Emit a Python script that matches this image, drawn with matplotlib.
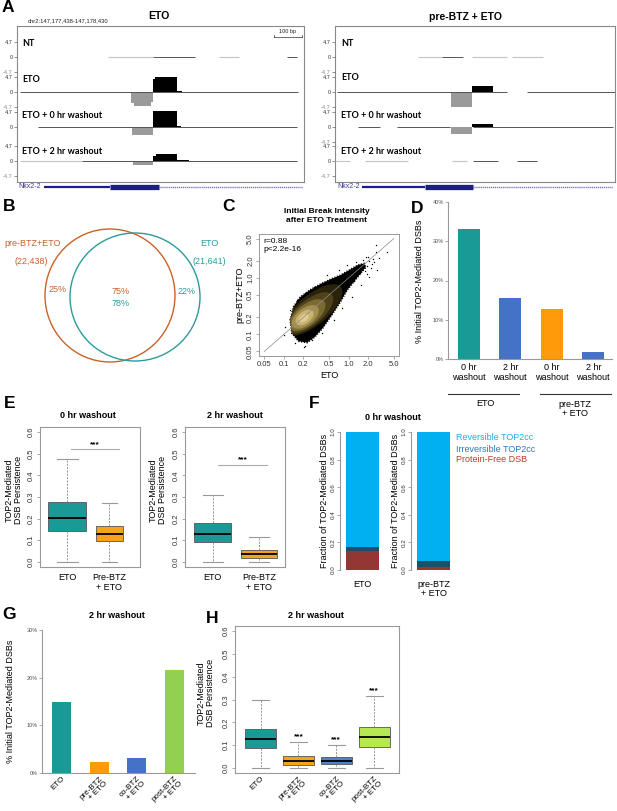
import numpy as np
import matplotlib
matplotlib.use("Agg")
import matplotlib.pyplot as plt
from matplotlib.patches import Ellipse, Polygon

W, H = 617, 811
plt.rcParams['font.family'] = ['Liberation Sans', 'DejaVu Sans']

# --- DATA ---
# A: browser tracks, positions in bp from chr2:147,177,438
REGION_LEN = 992
TRACK_NAMES = ["NT", "ETO", "ETO + 0 hr washout", "ETO + 2 hr washout"]
ETO_BLOCKS = [
    [],
    [(395, 405, -3.6), (405, 462, -4.4), (462, 470, -3.2), (470, 478, 4.2), (478, 553, 4.8), (553, 572, 0.4)],
    [(397, 470, -2.5), (470, 553, 5.0), (553, 566, 0.3)],
    [(321, 401, -0.3), (401, 470, -1.3), (470, 480, 1.6), (480, 553, 2.3), (553, 595, 0.3)],
]
ETO_DARK = [[(470, 615), (933, 968)], [(10, 970)], [(73, 968)], [(224, 968)]]
ETO_LIGHT = [[(315, 470), (698, 767)], [], [], [(10, 224)]]
PRE_BLOCKS = [
    [],
    [(411, 485, -4.7), (485, 560, 2.0)],
    [(411, 485, -2.2), (485, 560, 1.1)],
    [],
]
PRE_DARK = [[(379, 453)], [(7, 609), (680, 992)], [(81, 159), (219, 407), (489, 985)], [(489, 577), (645, 716)]]
PRE_LIGHT = [[(294, 379), (485, 609), (627, 737)], [], [], [(0, 53), (106, 259), (414, 468)]]
GENE_THIN = (95, 320)
GENE_THICK = (320, 490)
GENE_INTRON = (490, 985)

# B: venn
VENN_NAMES = ["pre-BTZ+ETO", "ETO"]
VENN_COUNTS = ["(22,438)", "(21,641)"]
VENN_ONLY = ["25%", "22%"]
VENN_SHARED = ["75%", "78%"]

# C: scatter; dense cloud outline, density levels and stray points
CLOUD_OUTLINE = [(0.126, 0.18), (0.142, 0.31), (0.18, 0.46), (0.258, 0.62), (0.37, 0.78),
                 (0.53, 0.95), (0.75, 1.12), (1.05, 1.4), (1.4, 1.7), (1.75, 1.8), (1.85, 1.55),
                 (1.6, 1.28), (1.3, 0.95), (0.96, 0.62), (0.75, 0.38), (0.55, 0.22), (0.4, 0.13),
                 (0.3, 0.09), (0.23, 0.072), (0.17, 0.076), (0.134, 0.105)]
DENSITY_LEVELS = [(0.28, 0.27, 1.20, 0.50), (0.25, 0.24, 0.95, 0.42), (0.23, 0.22, 0.72, 0.35),
                  (0.215, 0.205, 0.52, 0.28), (0.21, 0.20, 0.34, 0.20), (0.205, 0.195, 0.18, 0.11)]
DENSITY_COLORS = ["#2a220b", "#4f421a", "#7b6a31", "#a48f52", "#c9b474", "#dfcd90"]
OUT_X = [0.106, 0.100, 0.151, 0.203, 0.274, 0.392, 0.593, 0.80, 1.15, 1.54, 2.07, 2.79, 2.96,
         2.63, 1.84, 1.29, 0.96, 0.71, 0.47, 0.39, 0.29, 0.216, 0.16, 0.126, 1.37, 1.01,
         2.63, 3.98, 0.216, 1.6, 1.9, 2.1, 2.4, 1.5, 1.8, 2.2, 1.7, 2.5, 1.3, 1.2, 2.0, 2.3, 1.95]
OUT_Y = [0.137, 0.098, 0.070, 0.059, 0.080, 0.105, 0.181, 0.29, 0.47, 0.75, 1.05, 1.38, 2.23,
         2.92, 2.38, 1.94, 1.70, 1.38, 1.13, 0.80, 0.70, 0.54, 0.41, 0.27, 1.49, 1.21,
         3.88, 2.89, 0.062, 1.8, 1.6, 2.0, 2.2, 1.25, 1.35, 1.5, 2.1, 1.9, 1.45, 0.9, 2.4, 1.75, 1.2]
C_TICKS = [0.05, 0.1, 0.2, 0.5, 1.0, 2.0, 5.0]

# D
D_LABELS = ["0 hr\nwashout", "2 hr\nwashout", "0 hr\nwashout", "2 hr\nwashout"]
D_VALUES = [33.0, 15.5, 12.7, 1.8]
D_GROUPS = ["ETO", "pre-BTZ\n+ ETO"]

# E: (whislo, q1, med, q3, whishi)
E_LABELS = ["ETO", "Pre-BTZ\n+ ETO"]
E0_STATS = [(0.0, 0.143, 0.203, 0.277, 0.476), (0.0, 0.098, 0.130, 0.168, 0.272)]
E2_STATS = [(0.0, 0.091, 0.130, 0.180, 0.310), (0.0, 0.018, 0.034, 0.056, 0.115)]
E_SIG_Y = [0.52, 0.45]

# F
F_LABELS = ["ETO", "pre-BTZ\n+ ETO"]
F_PROTEIN_FREE = [0.135, 0.025]
F_IRREV = [0.035, 0.042]
F_REV = [0.830, 0.933]
F_LEGEND = ["Reversible TOP2cc", "Irreversible TOP2cc", "Protein-Free DSB"]

# G
G_LABELS = ["ETO", "pre-BTZ\n+ ETO", "co-BTZ\n+ ETO", "post-BTZ\n+ ETO"]
G_VALUES = [14.9, 2.4, 3.1, 21.6]

# H
H_STATS = [(0.0, 0.088, 0.127, 0.170, 0.296), (0.0, 0.013, 0.030, 0.054, 0.115),
           (0.0, 0.016, 0.032, 0.050, 0.102), (0.0, 0.090, 0.135, 0.178, 0.316)]

TEAL = "#1a9a96"
ORANGE = "#f7a21b"
BLUE = "#4472c4"
NAVY = "#1c1c8c"

fig = plt.figure(figsize=(W / 100, H / 100), dpi=100)


def px_axes(l, t, r, b):
    return fig.add_axes([l / W, 1 - b / H, (r - l) / W, (b - t) / H])


# --- A ---
TRACK_BASE = [57, 92, 127, 161]


def draw_browser(box_l, box_r, blocks, dark, light, skip_neg):
    frame = px_axes(box_l, 26, box_r, 182)
    frame.set_xticks([]); frame.set_yticks([])
    for s in frame.spines.values():
        s.set_color("#888"); s.set_linewidth(0.8)
    for i, base in enumerate(TRACK_BASE):
        ax = px_axes(box_l, base - 17.5, box_r, base + 17.5)
        ax.set_xlim(0, REGION_LEN); ax.set_ylim(-5.5, 5.5)
        ax.patch.set_visible(False)
        for s in ax.spines.values():
            s.set_visible(False)
        ax.set_xticks([])
        ticks = [4.7, 0] if i in skip_neg else [4.7, 0, -4.7]
        ax.set_yticks(ticks)
        ax.set_yticklabels([("%g" % t) for t in ticks])
        ax.tick_params(axis='y', length=2, width=0.5, color='#666', labelsize=4, pad=1, labelcolor='#333')
        for lab, t in zip(ax.get_yticklabels(), ticks):
            if t < 0:
                lab.set_color('#888')
        for s, e in light[i]:
            ax.plot([s, e], [0, 0], color='#c4c4c4', lw=0.8, solid_capstyle='butt')
        for s, e in dark[i]:
            ax.plot([s, e], [0, 0], color='#555555', lw=0.7, solid_capstyle='butt')
        for s, e, v in blocks[i]:
            ax.fill_between([s, e], 0, v, color='black' if v > 0 else '#9a9a9a', lw=0)
    gene = px_axes(box_l, 183, box_r, 191)
    gene.set_xlim(0, REGION_LEN); gene.set_ylim(-1, 1); gene.axis('off')
    gene.plot(GENE_THIN, [0, 0], color=NAVY, lw=1.6, solid_capstyle='butt')
    gene.plot(GENE_THICK, [0, 0], color=NAVY, lw=3.8, solid_capstyle='butt')
    gene.plot(GENE_INTRON, [0, 0], color='#6a6ab0', lw=1.0, ls=(0, (0.8, 0.6)))


draw_browser(17, 304, ETO_BLOCKS, ETO_DARK, ETO_LIGHT, skip_neg=[2])
draw_browser(335, 615, PRE_BLOCKS, PRE_DARK, PRE_LIGHT, skip_neg=[])

# --- C ---
lx = np.log10
axC = px_axes(259, 234, 399, 356)
axC.set_xlim(lx(0.05) - 0.08, lx(5) + 0.08)
axC.set_ylim(lx(0.05) - 0.08, lx(5) + 0.08)
axC.set_xticks(lx(C_TICKS)); axC.set_yticks(lx(C_TICKS))
axC.set_xticklabels(["%g" % t if t < 1 else "%.1f" % t for t in C_TICKS])
axC.set_yticklabels(["%g" % t if t < 1 else "%.1f" % t for t in C_TICKS], rotation=90, va='center')
axC.tick_params(length=2, width=0.5, color='#888', labelsize=5.5, pad=1.5, labelcolor='#333')
for s in axC.spines.values():
    s.set_color('#999'); s.set_linewidth(0.7)
outline = Polygon(lx(np.array(CLOUD_OUTLINE)), closed=True, fc='black', ec='black', lw=1.3,
                  ls=(0, (0.6, 0.9)), zorder=2)
axC.add_patch(outline)
core = Polygon(lx(np.array(CLOUD_OUTLINE)), closed=True, visible=False)
axC.add_patch(core)
for (cx, cy, length, width), col in zip(DENSITY_LEVELS, DENSITY_COLORS):
    e = Ellipse((lx(cx), lx(cy)), length, width, angle=45, fc=col, ec='none', zorder=3)
    e.set_clip_path(core)
    axC.add_patch(e)
axC.scatter(lx(OUT_X), lx(OUT_Y), s=1.0, c='black', lw=0, zorder=4)
axC.plot([lx(0.05), lx(5)], [lx(0.05), lx(5)], color='#8a8a8a', lw=0.5, zorder=5)
axC.text(0.03, 0.97, "r=0.88\np<2.2e-16", transform=axC.transAxes, ha='left', va='top',
         fontsize=6, linespacing=1.3)
axC.set_xlabel("ETO", fontsize=6.5, labelpad=2)
axC.set_ylabel("pre-BTZ+ETO", fontsize=6.5, labelpad=2)

# --- D ---
axD = px_axes(448, 202, 612, 359)
xD = np.arange(len(D_VALUES))
axD.bar(xD, D_VALUES, width=0.53, color=[TEAL, BLUE, "#ff9a0a", BLUE])
axD.set_xlim(-0.5, 3.45); axD.set_ylim(0, 40)
axD.set_yticks([0, 10, 20, 30, 40])
axD.set_yticklabels(["%d%%" % v for v in [0, 10, 20, 30, 40]])
axD.set_xticks(xD); axD.set_xticklabels(D_LABELS, fontsize=6.5, linespacing=1.1)
axD.tick_params(axis='x', length=0, pad=3)
axD.tick_params(axis='y', length=2, width=0.5, color='#888', labelsize=4, labelcolor='#555', pad=1)
for k in ['top', 'right']:
    axD.spines[k].set_visible(False)
for k in ['left', 'bottom']:
    axD.spines[k].set_color('#999'); axD.spines[k].set_linewidth(0.8)


# --- E ---
def box_stats(rows, labels):
    return [dict(whislo=r[0], q1=r[1], med=r[2], q3=r[3], whishi=r[4], label=l, fliers=[])
            for r, l in zip(rows, labels)]


def style_box(ax, ylim=(-0.024, 0.624)):
    ax.set_ylim(*ylim)
    ax.set_yticks(np.arange(0, 0.61, 0.1))
    ax.set_yticklabels(["%.1f" % v for v in np.arange(0, 0.61, 0.1)], rotation=90, va='center')
    ax.tick_params(axis='y', length=2, width=0.5, color='#888', labelsize=5.5, labelcolor='#333', pad=1.5)
    ax.tick_params(axis='x', length=0, labelsize=6.5, pad=4)
    for s in ax.spines.values():
        s.set_color('#999'); s.set_linewidth(0.8)


def draw_box(ax, rows, labels, colors, widths):
    bp = ax.bxp(box_stats(rows, labels), widths=widths, capwidths=[w * 0.55 for w in widths],
                patch_artist=True, showfliers=False,
                boxprops=dict(edgecolor='#555', linewidth=0.6),
                whiskerprops=dict(color='#888', linestyle=(0, (2.5, 1.5)), linewidth=0.6),
                capprops=dict(color='#999', linewidth=0.8),
                medianprops=dict(color='black', linewidth=1.3))
    for patch, c in zip(bp['boxes'], colors):
        patch.set_facecolor(c)


axE0 = px_axes(40, 427, 140, 567)
draw_box(axE0, E0_STATS, E_LABELS, [TEAL, ORANGE], [0.895, 0.63])
axE0.set_xlim(0.354, 2.73)
style_box(axE0)
axE2 = px_axes(185, 427, 285, 567)
draw_box(axE2, E2_STATS, E_LABELS, [TEAL, ORANGE], [0.8, 0.78])
axE2.set_xlim(0.398, 2.57)
style_box(axE2)
for ax, y, (x0, x1) in zip([axE0, axE2], E_SIG_Y, [(1.09, 2.23), (1.115, 2.18)]):
    ax.plot([x0, x1], [y, y], color='#aaa', lw=0.8)
    ax.text((x0 + x1) / 2, y + 0.005, "***", ha='center', va='bottom', fontsize=6, fontweight='bold')

# --- F ---
for l, r, i in [(340, 385, 0), (411, 455, 1)]:
    ax = px_axes(l, 432, r, 570)
    ax.bar(0, F_PROTEIN_FREE[i], width=1, color="#943634")
    ax.bar(0, F_IRREV[i], width=1, bottom=F_PROTEIN_FREE[i], color="#1d4e6b")
    ax.bar(0, F_REV[i], width=1, bottom=F_PROTEIN_FREE[i] + F_IRREV[i], color="#00b0f0")
    ax.set_xlim(-22.5 / 33.0, (r - l - 22.5) / 33.0)
    ax.set_ylim(0, 1)
    ax.set_yticks(np.arange(0, 1.01, 0.2))
    ax.set_yticklabels(["%.1f" % v for v in np.arange(0, 1.01, 0.2)], rotation=90, va='center')
    ax.tick_params(axis='y', length=2, width=0.5, color='#888', labelsize=4.5, labelcolor='#333', pad=1)
    ax.set_xticks([0]); ax.set_xticklabels([F_LABELS[i]], fontsize=6.5, linespacing=1.1)
    ax.tick_params(axis='x', length=0, pad=7)
    for k in ['top', 'right', 'bottom']:
        ax.spines[k].set_visible(False)
    ax.spines['left'].set_color('#999'); ax.spines['left'].set_linewidth(0.8)
    ax.set_ylabel("Fraction of TOP2-Mediated DSBs", fontsize=6.5, labelpad=1)

# --- G ---
axG = px_axes(42, 630, 195, 773)
xG = np.arange(len(G_VALUES))
axG.bar(xG, G_VALUES, width=0.51, color=[TEAL, "#ff9a0a", BLUE, "#92d050"])
axG.set_xlim(-0.52, 3.55); axG.set_ylim(0, 30)
axG.set_yticks([0, 10, 20, 30])
axG.set_yticklabels(["%d%%" % v for v in [0, 10, 20, 30]])
axG.tick_params(axis='y', length=2, width=0.5, color='#888', labelsize=4, labelcolor='#555', pad=1)
axG.set_xticks(xG)
axG.set_xticklabels(G_LABELS, rotation=45, ha='right', va='top', rotation_mode='anchor', fontsize=5.8,
                    linespacing=0.95)
axG.tick_params(axis='x', length=0, pad=1.5)
for k in ['top', 'right']:
    axG.spines[k].set_visible(False)
for k in ['left', 'bottom']:
    axG.spines[k].set_color('#999'); axG.spines[k].set_linewidth(0.8)
axG.set_ylabel("% Initial TOP2-Mediated DSBs", fontsize=6.5, labelpad=8)

# --- H ---
axH = px_axes(235, 626, 399, 773)
draw_box(axH, H_STATS, G_LABELS, [TEAL, ORANGE, "#4a86c5", "#b5e853"], [0.82] * 4)
axH.set_xlim(0.325, 4.66)
style_box(axH, ylim=(-0.022, 0.622))
axH.set_xticklabels(G_LABELS, rotation=45, ha='right', va='top', rotation_mode='anchor', fontsize=5.8,
                    linespacing=0.95)
axH.tick_params(axis='x', pad=1.5)
for i, row in enumerate(H_STATS[1:], start=2):
    axH.text(i, row[4] + 0.008, "***", ha='center', va='bottom', fontsize=6, fontweight='bold')

# --- overlay: panel letters, titles, labels, venn ---
ov = fig.add_axes([0, 0, 1, 1])
ov.set_xlim(0, W); ov.set_ylim(H, 0); ov.axis('off')

for letter, x, y in [("A", 2, 0), ("B", 3, 199), ("C", 222, 199), ("D", 411, 201),
                     ("E", 4, 396), ("F", 309, 396), ("G", 2, 607), ("H", 206, 611)]:
    ov.text(x, y, letter, fontsize=12.5, fontweight='bold', ha='left', va='top')

ov.text(159, 16, "ETO", fontsize=7.5, fontweight='bold', ha='center', va='center')
ov.text(465, 17, "pre-BTZ + ETO", fontsize=7.5, fontweight='bold', ha='center', va='center')
ov.text(28, 21, "chr2:147,177,438-147,178,430", fontsize=4.2, ha='left', va='center', color='#222')
ov.plot([274, 302], [36.5, 36.5], color='#333', lw=0.5)
ov.plot([274, 274], [35, 36.5], color='#333', lw=0.5)
ov.plot([302, 302], [35, 36.5], color='#333', lw=0.5)
ov.text(288, 34.5, "100 bp", fontsize=4, ha='center', va='bottom', color='#222')
for name, y0, y1 in zip(TRACK_NAMES, [43, 79, 116, 152], [43, 78, 115, 152]):
    ov.text(22, y0, name, fontsize=6.5, fontweight='bold', family=['Lato', 'DejaVu Sans'],
            ha='left', va='center')
    ov.text(341, y1, name, fontsize=6.5, fontweight='bold', family=['Lato', 'DejaVu Sans'],
            ha='left', va='center')
ov.text(41, 187, "Nkx2-2", fontsize=5, color='#3a3aa0', ha='right', va='center')
ov.text(360, 187, "Nkx2-2", fontsize=5, color='#3a3aa0', ha='right', va='center')

VORANGE, VTEAL = "#c8622a", "#2a9c9a"
ov.add_patch(Ellipse((110, 295.5), 130, 133, fc='none', ec=VORANGE, lw=1.0))
ov.add_patch(Ellipse((135, 297), 130, 128, fc='none', ec=VTEAL, lw=1.0))
ov.text(33, 244, VENN_NAMES[0], fontsize=6.5, color=VORANGE, ha='center', va='center')
ov.text(31, 261, VENN_COUNTS[0], fontsize=6.5, color=VORANGE, ha='center', va='center')
ov.text(209, 244, VENN_NAMES[1], fontsize=6.5, color=VTEAL, ha='center', va='center')
ov.text(209, 261, VENN_COUNTS[1], fontsize=6.5, color=VTEAL, ha='center', va='center')
ov.text(58, 289, VENN_ONLY[0], fontsize=6.5, color=VORANGE, ha='center', va='center')
ov.text(187, 292, VENN_ONLY[1], fontsize=6.5, color=VTEAL, ha='center', va='center')
ov.text(121, 291, VENN_SHARED[0], fontsize=6.5, color=VORANGE, ha='center', va='center')
ov.text(121, 303, VENN_SHARED[1], fontsize=6.5, color=VTEAL, ha='center', va='center')

ov.text(327, 216, "Initial Break Intensity\nafter ETO Treatment", fontsize=6, fontweight='bold',
        ha='center', va='center', linespacing=1.3)
ov.text(420, 281, "% Initial TOP2-Mediated DSBs", fontsize=6.5, rotation=90, ha='center', va='center')
ov.plot([448, 519], [394, 394], color='#333', lw=0.8)
ov.plot([540, 611], [394, 394], color='#333', lw=0.8)
ov.text(485, 404, D_GROUPS[0], fontsize=6.5, ha='center', va='center')
ov.text(575, 409, D_GROUPS[1], fontsize=6.5, ha='center', va='center', linespacing=1.1)

ov.text(88, 416, "0 hr washout", fontsize=6.5, fontweight='bold', ha='center', va='center')
ov.text(235, 416, "2 hr washout", fontsize=6.5, fontweight='bold', ha='center', va='center')
ov.text(14, 490, "TOP2-Mediated\nDSB Persistence", fontsize=6.5, rotation=90, ha='center', va='center',
        linespacing=1.05)
ov.text(158, 490, "TOP2-Mediated\nDSB Persistence", fontsize=6.5, rotation=90, ha='center', va='center',
        linespacing=1.05)

ov.text(393, 417, "0 hr washout", fontsize=6.5, fontweight='bold', ha='center', va='center')
for txt, y, c in zip(F_LEGEND, [437, 449, 460], ["#1aafe6", "#2e75b6", "#c0392b"]):
    ov.text(456, y, txt, fontsize=6.5, color=c, ha='left', va='center')

ov.text(117, 615, "2 hr washout", fontsize=6.5, fontweight='bold', ha='center', va='center')
ov.text(316, 615, "2 hr washout", fontsize=6.5, fontweight='bold', ha='center', va='center')
ov.text(206, 693, "TOP2-Mediated\nDSB Persistence", fontsize=6.5, rotation=90, ha='center', va='center',
        linespacing=1.05)

fig.savefig("out.png", dpi=100)
